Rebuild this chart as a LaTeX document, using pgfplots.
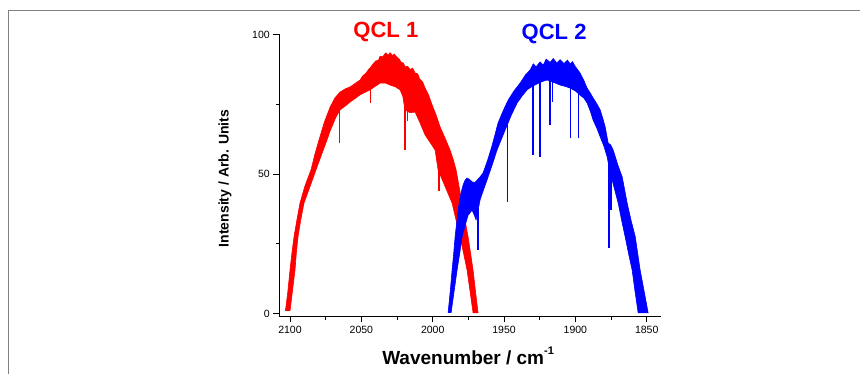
\documentclass[border=0pt]{standalone}
\usepackage{pgfplots}
\pgfplotsset{compat=1.18}
\usepackage{fontspec}
\setmainfont{Liberation Sans}
\begin{document}
\begin{tikzpicture}[x=1pt,y=1pt]
\path[use as bounding box] (0,0) rectangle (860,374);
\draw[black!50, line width=1pt] (8.7,-2) -- (8.7,363.3) -- (862,363.3);
\begin{axis}[
 at={(279.3pt,57.7pt)}, anchor=south west,
 scale only axis, width=381.4pt, height=281.8pt,
 x dir=reverse, xmin=1840.2, xmax=2107.5, ymin=-0.93, ymax=100,
 axis x line=bottom, axis y line=left,
 axis line style={line width=0.9pt, -},
 xtick={1850,1900,...,2100}, minor xtick={1875,1925,...,2075},
 ytick={0,50,100}, minor ytick={25,75},
 tick align=outside, major tick length=6pt, minor tick length=3.5pt,
 tick style={black, line width=0.8pt},
 every tick label/.append style={font=\fontsize{10.5}{12}\selectfont},
 /pgf/number format/assume math mode=true,
 /pgf/number format/1000 sep={},
 clip=false,
 unbounded coords=jump,
 ylabel={Intensity / Arb. Units},
 ylabel style={font=\bfseries\fontsize{14}{16}\selectfont, at={(axis description cs:-0.1424,0.489)}, anchor=center},
 xlabel={Wavenumber / cm\raisebox{0.55em}{\fontsize{11}{12}\selectfont -1}},
 xlabel style={font=\bfseries\fontsize{19}{21}\selectfont, at={(axis description cs:0.495,-0.1728)}, anchor=base},
]
% QCL 1 band (upper envelope then lower envelope back)
\addplot[draw=red, fill=red, line width=0.6pt] coordinates {
(2103.2,1.0) (2101.5,8) (2100.0,15.6) (2098.6,22.0) (2097.2,27.5) (2095.2,33.5) (2093.0,39.6)
(2089.5,45.8) (2085.3,51.5) (2082.6,57.0) (2079.7,62.2) (2076.0,68.5) (2071.9,74.0) (2068.5,77.3)
(2064.9,79.4) (2061,80.6) (2057.9,81.2) (2054,82.6) (2050.9,83.7) (2049,85.2) (2047,86.0)
(2045,87.4) (2043.9,88.0) (2042,89.3) (2040,90.5) (2038,90.8) (2036.9,92.2) (2035,92.0)
(2033,93.4) (2031,92.6) (2029.9,93.5) (2028,92.4) (2027,93.0) (2025.0,91.9) (2023.5,91.2)
(2022,90.0) (2020.5,89.8) (2019.4,88.4) (2017.5,88.6) (2016,87.5) (2014,87.9) (2012.3,86.2)
(2010.5,85.9) (2009,84.0) (2007,83.0) (2005.3,80.8) (2003,78.5) (2000.4,74.8) (1997.5,71)
(1994.8,66.9) (1991,62.5) (1987.8,58.6) (1985.6,55.2) (1983.6,51.5) (1981.5,45.5) (1979.4,39.6)
(1977.3,33.5) (1975.2,27.5) (1973.4,21.5) (1971.7,15.6) (1970,8) (1968.2,0.3)
(1971.7,0.3) (1973.8,8) (1975.9,15.6) (1978.3,21.5) (1980.8,27.5) (1983.6,33.5) (1986.4,39.6)
(1991.5,45.8) (1996.2,51.5) (1998.3,58.6) (2002,61.5) (2005.3,64.0) (2009,68.5) (2012.3,72.2)
(2016,72.0) (2019.4,73.0) (2021,78) (2022.9,80.2) (2026,81.2) (2029.9,81.9) (2033,82.6)
(2036.9,82.6) (2040,81.5) (2043.9,80.2) (2047,79.4) (2050.9,78.4) (2054,77.2) (2057.9,75.8)
(2061,74.5) (2064.9,73.0) (2068,70.2) (2071.9,65.4) (2074.1,62.2) (2078,56.8) (2081.8,51.5)
(2086,45.5) (2090.2,39.6) (2092.5,33.5) (2094.4,27.5) (2095.6,21.5) (2096.5,15.6) (2098.3,8)
(2100,1.0)
};
\addplot[red, line width=1.6pt] coordinates {
(2065.3,76) (2065.3,61) (2065.3,nan)
(2043.5,82) (2043.5,75.3) (2043.5,nan)
(2019.6,78) (2019.6,58.6) (2019.6,nan)
(2017.7,78) (2017.7,69) (2017.7,nan)
(1995.5,62) (1995.5,44)
};
% QCL 2 band
\addplot[draw=blue, fill=blue, line width=0.6pt] coordinates {
(1989.2,0.3) (1987.7,8) (1986.4,15.6) (1985.3,21.5) (1984.3,27.5) (1983.0,33.5) (1981.5,39.6)
(1980,43.5) (1978.7,46.1) (1977.3,47.8) (1975.9,48.6) (1974,48.0) (1972.4,47.2) (1970.5,47.0)
(1968.9,47.8) (1966.8,49.0) (1964.7,50.4) (1961.5,55.0) (1958.6,59.8) (1956.4,64.0) (1954.2,68.3)
(1950.5,72.8) (1947.1,76.5) (1943,79.8) (1938.7,82.6) (1935,85.5) (1931.7,87.3) (1929.5,89.5)
(1927.5,88.4) (1924.7,90.2) (1922.5,89.0) (1920.5,91.2) (1917.7,90.0) (1915.5,91.4) (1913,89.8)
(1910.7,91.0) (1908,89.6) (1905.5,90.8) (1903.7,89.5) (1902,90.3) (1900.2,88.6) (1898.5,87.5)
(1896.7,86.2) (1894,83.5) (1891.8,80.8) (1889.5,79.0) (1887.6,77.3) (1885,75.2) (1882.6,73.0)
(1880.8,70.0) (1879.1,66.9) (1877.0,61.1) (1875.3,60.5) (1873.5,58.6) (1872,56.2) (1870.7,54.0)
(1869,51.5) (1867.2,49.0) (1865.5,44.5) (1863.7,39.6) (1861,33.5) (1858.0,27.5) (1856.3,21.5)
(1854.6,15.6) (1851.8,8) (1849.0,0.3)
(1856.0,0.3) (1858.2,8) (1860.2,15.6) (1862.7,21.5) (1865.1,27.5) (1867.6,33.5) (1870.0,39.6)
(1873,45.5) (1875.6,50.4) (1877.7,56.1) (1880,60) (1882.6,63.3) (1885,66.5) (1887.6,69.4)
(1889.5,72.5) (1891.8,75.5) (1894,77.2) (1896.7,78.3) (1900,79.8) (1903.7,80.8) (1907,81.4)
(1910.7,81.9) (1915,82.8) (1919.8,83.7) (1923,83.2) (1926.8,82.3) (1930,81.5) (1933.8,80.2)
(1937,78.2) (1940.8,75.5) (1945,71) (1949.2,65.8) (1952,62.3) (1954.9,58.6) (1958.5,53)
(1961.9,47.9) (1964.5,44.2) (1966.8,40.7) (1968.2,37) (1969.6,33.6) (1971,35.5) (1972.4,37.1)
(1974,36) (1975.2,35.3) (1977.3,31.5) (1979.4,27.5) (1981.1,21.5) (1982.9,15.6) (1985,8)
(1987.1,0.3)
};
\addplot[blue, line width=1.6pt] coordinates {
(1968.2,38) (1968.2,22.8) (1968.2,nan)
(1947.6,72) (1947.6,40) (1947.6,nan)
(1929.8,84) (1929.8,57) (1929.8,nan)
(1924.9,86) (1924.9,56) (1924.9,nan)
(1917.6,86) (1917.6,67.6) (1917.6,nan)
(1916.0,86) (1916.0,76) (1916.0,nan)
(1903.3,84) (1903.3,63) (1903.3,nan)
(1897.8,82) (1897.8,63) (1897.8,nan)
(1876.4,55) (1876.4,23.5) (1876.4,nan)
(1875.0,55) (1875.0,37)
};
\node[red, font=\bfseries\fontsize{22}{24}\selectfont] at (axis cs:2032.8,100.9) {QCL 1};
\node[blue, font=\bfseries\fontsize{22}{24}\selectfont] at (axis cs:1914.9,100.1) {QCL 2};
\end{axis}
\end{tikzpicture}
\end{document}
